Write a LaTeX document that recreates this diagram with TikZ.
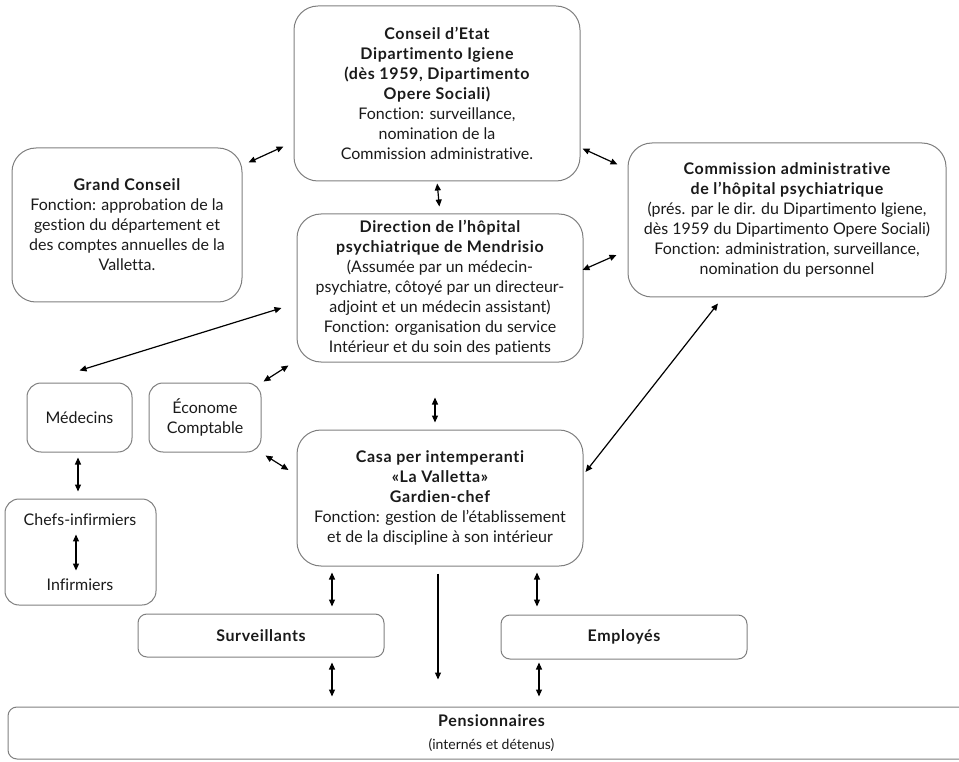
\documentclass[tikz,border=0pt]{standalone}
\usepackage{fontspec}
\setmainfont{Lato}[Ligatures=NoCommon]
\usepackage{tikz}
\usetikzlibrary{positioning,arrows.meta}
\definecolor{bxgray}{HTML}{7F7F7F}
\definecolor{txtblack}{HTML}{1A1A1A}
\newcommand{\hd}[1]{{\bfseries\addfontfeatures{LetterSpace=4}#1}}

\begin{document}
\begin{tikzpicture}[x=1pt, y=-1pt,
  font=\fontsize{16}{20}\selectfont, text=txtblack,
  box/.style={draw=bxgray, line width=1pt, rounded corners=24pt, align=center, inner sep=3pt},
  small/.style={box, rounded corners=14pt},
  flat/.style={box, rounded corners=9pt},
  link/.style={{Triangle[length=7pt,width=6pt]}-{Triangle[length=7pt,width=6pt]}, line width=1.2pt, draw=black},
  oneway/.style={-{Triangle[length=7pt,width=6pt]}, line width=1.2pt, draw=black}
]
\useasboundingbox (0,0) rectangle (959,762);
% ================= top row =================
\node[box, minimum width=286pt, minimum height=175pt] (conseil) at (437,93.5) {\hd{Conseil d’Etat}\\ \hd{Dipartimento Igiene}\\ \hd{(dès 1959, Dipartimento}\\ \hd{Opere Sociali)}\\ Fonction: surveillance,\\ nomination de la\\ Commission administrative.};
\node[box, minimum width=230pt, minimum height=154pt] (grand) at (127,225) {\hd{Grand Conseil}\\ Fonction: approbation de la\\ gestion du département et\\ des comptes annuelles de la\\ Valletta.};
\node[box, minimum width=318pt, minimum height=154pt] (comm) at (787,220) {\hd{Commission administrative}\\ \hd{de l’hôpital psychiatrique}\\ (prés. par le dir. du Dipartimento Igiene,\\ dès 1959 du Dipartimento Opere Sociali)\\ Fonction: administration, surveillance,\\ nomination du personnel};
% ================= middle =================
\node[box, minimum width=286pt, minimum height=148pt] (dir) at (440,288) {\hd{Direction de l’hôpital}\\ \hd{psychiatrique de Mendrisio}\\ (Assumée par un médecin-\\ psychiatre, côtoyé par un directeur-\\ adjoint et un médecin assistant)\\ Fonction: organisation du service\\ Intérieur et du soin des patients};
\node[small, minimum width=105pt, minimum height=69pt] (med) at (79.5,417.5) {Médecins};
\node[small, minimum width=112pt, minimum height=69pt] (eco) at (205,417.5) {Économe\\ Comptable};
\node[box, minimum width=286pt, minimum height=136pt] (casa) at (440,498) {\hd{Casa per intemperanti}\\ \hd{«La Valletta»}\\ \hd{Gardien-chef}\\ Fonction: gestion de l’établissement\\ et de la discipline à son intérieur};
\node[small, minimum width=151pt, minimum height=106pt] (chefs) at (80.5,552) {};
\node (chefinf) at (80,520) {Chefs-infirmiers};
\node (inf) at (80,585) {Infirmiers};
% ================= bottom row =================
\node[flat, minimum width=246pt, minimum height=43pt] (surv) at (261,635.5) {\hd{Surveillants}};
\node[flat, minimum width=246pt, minimum height=44pt] (empl) at (624,637) {\hd{Employés}};
\node[flat, minimum width=967pt, minimum height=52pt] (pens) at (491.5,733) {\hd{Pensionnaires}\\[3pt] {\fontsize{14}{16}\selectfont (internés et détenus)}};
% ================= links =================
\draw[link] ([xshift=6pt,yshift=-15pt]grand.north east) -- ([xshift=-10pt,yshift=35pt]conseil.south west);
\draw[link] ([xshift=2pt,yshift=33pt]conseil.south east) -- ([xshift=-10pt,yshift=-22pt]comm.north west);
\draw[link, shorten <=2pt, shorten >=7pt] (conseil.south) -- (dir.north);
\draw[link] ([xshift=-1pt,yshift=18pt]dir.east) -- ([xshift=-11pt,yshift=-35pt]comm.west);
\draw[link] ([yshift=12pt]med.north) -- ([xshift=-15pt,yshift=-20pt]dir.west);
\draw[link] ([xshift=2pt,yshift=1pt]eco.north east) -- ([xshift=-8pt,yshift=-3pt]dir.south west);
\draw[link, shorten <=35pt, shorten >=7pt] ([xshift=-5pt]dir.south) -- ([xshift=-5pt]casa.north);
\draw[link] ([xshift=4pt,yshift=-3pt]eco.south east) -- ([xshift=-8pt,yshift=28pt]casa.west);
\draw[link] ([xshift=-69pt,yshift=-6pt]comm.south) -- ([xshift=2pt,yshift=26pt]casa.east);
\draw[link, shorten <=5pt, shorten >=7pt] ([xshift=-1.5pt]med.south) -- ([xshift=-2.5pt]chefs.north);
\draw[link, shorten <=5pt, shorten >=5pt] ([xshift=-4pt]chefinf.south) -- ([xshift=-4pt]inf.north);
% ================= towards the bottom row =================
\draw[link] ([xshift=-108pt,yshift=-6pt]casa.south) -- ([xshift=71pt,yshift=7pt]surv.north);
\draw[oneway] ([xshift=-2pt,yshift=-7pt]casa.south) -- ([xshift=-53.5pt,yshift=27pt]pens.north);
\draw[link] ([xshift=97pt,yshift=-6pt]casa.south) -- ([xshift=-87pt,yshift=8pt]empl.north);
\draw[link] ([xshift=71pt,yshift=-5pt]surv.south) -- ([xshift=-159.5pt,yshift=10pt]pens.north);
\draw[link] ([xshift=-85pt,yshift=-3pt]empl.south) -- ([xshift=47.5pt,yshift=10pt]pens.north);
\end{tikzpicture}
\end{document}
